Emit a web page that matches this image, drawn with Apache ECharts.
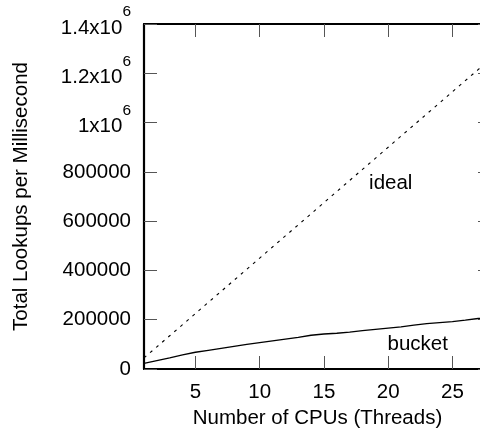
<!DOCTYPE html>
<html><head><meta charset="utf-8">
<script src="https://cdn.jsdelivr.net/npm/echarts@6/dist/echarts.min.js"></script>
<style>html,body{margin:0;padding:0;background:#fff}#c{width:480px;height:433px}</style>
</head><body><div id="c"></div>
<script>
const cpus = [1,2,3,4,5,6,7,8,9,10,11,12,13,14,15,16,17,18,19,20,21,22,23,24,25,26,27,28];
const idealValues = [45000,90000,135000,180000,225000,270000,315000,360000,405000,450000,495000,540000,585000,630000,675000,720000,765000,810000,855000,900000,945000,990000,1035000,1080000,1125000,1170000,1215000,1260000];
const bucketValues = [23000,34000,45000,57000,68000,76000,84000,92000,100000,107000,114000,121000,128000,137000,142000,145000,150000,156000,161000,166000,171000,178000,184000,188000,192000,198000,205000,210000];
const xTicks = [5,10,15,20,25];
const yTicks = [0,200000,400000,600000,800000,1000000,1200000,1400000];
const yTickLabels = {1400000:['1.4x10','6'],1200000:['1.2x10','6'],1000000:['1x10','6']};
const seriesNames = ['ideal','bucket'];
const seriesLabelPos = [[20.2,754600],[22.3,101400]];
const xTitle = 'Number of CPUs (Threads)';
const yTitle = 'Total Lookups per Millisecond';

const FONT = "'Liberation Sans', Arial, Helvetica, sans-serif";
const FS = 20.5;
const axisLine = {show:true, onZero:false, lineStyle:{color:'#000', width:2.2}};
const tick = {show:true, inside:true, length:13, lineStyle:{color:'#555', width:1}};

const chart = echarts.init(document.getElementById('c'), null, {renderer:'canvas'});
const xBase = {type:'value', min:1, max:28, splitLine:{show:false}, axisLine:axisLine};
const yBase = {type:'value', min:0, max:1400000, interval:200000, splitLine:{show:false}, axisLine:axisLine};

function pairs(vals){ return cpus.map((c,i)=>[c, vals[i]]); }
function labelPoint(i){
  return {
    symbol:'rect', symbolSize:1, silent:true,
    itemStyle:{color:'rgba(0,0,0,0)'},
    data:[{coord:seriesLabelPos[i]}],
    label:{show:true, position:'inside', formatter:seriesNames[i], fontFamily:FONT, fontSize:FS, color:'#000'}
  };
}

chart.setOption({
  animation:false,
  backgroundColor:'#fff',
  textStyle:{fontFamily:FONT},
  grid:{left:144, top:24, width:347, bottom:64, containLabel:false, outerBoundsMode:'none'},
  xAxis:[
    Object.assign({}, xBase, {
      position:'bottom',
      name:xTitle, nameLocation:'middle', nameGap:37,
      nameTextStyle:{fontFamily:FONT, fontSize:FS, color:'#000'},
      axisTick:Object.assign({}, tick, {customValues:xTicks}),
      axisLabel:{customValues:xTicks, margin:13, fontFamily:FONT, fontSize:FS, color:'#000'}
    }),
    Object.assign({}, xBase, {
      position:'top',
      axisTick:Object.assign({}, tick, {customValues:xTicks}),
      axisLabel:{show:false}
    })
  ],
  yAxis:[
    Object.assign({}, yBase, {
      position:'left',
      name:yTitle, nameLocation:'middle', nameGap:112,
      nameTextStyle:{fontFamily:FONT, fontSize:FS, color:'#000'},
      axisTick:tick,
      axisLabel:{
        margin:13, fontFamily:FONT, fontSize:FS, color:'#000',
        formatter:function(v){
          if (yTickLabels[v]) return '{m|'+yTickLabels[v][0]+'}{s|'+yTickLabels[v][1]+'}';
          return String(v);
        },
        rich:{
          m:{fontFamily:FONT, fontSize:FS, color:'#000', lineHeight:20, padding:[8,0,0,0]},
          s:{fontFamily:FONT, fontSize:15.5, color:'#000', lineHeight:15, verticalAlign:'bottom', padding:[0,0,14,0]}
        }
      }
    }),
    Object.assign({}, yBase, {
      position:'right',
      axisTick:tick,
      axisLabel:{show:false}
    })
  ],
  series:[
    {
      name:seriesNames[0], type:'line', data:pairs(idealValues), showSymbol:false, symbol:'none',
      lineStyle:{color:'#000', width:1.1, type:[3,5]},
      markPoint:labelPoint(0)
    },
    {
      name:seriesNames[1], type:'line', data:pairs(bucketValues), showSymbol:false, symbol:'none',
      lineStyle:{color:'#000', width:1.3},
      markPoint:labelPoint(1)
    }
  ]
});
</script>
</body></html>
